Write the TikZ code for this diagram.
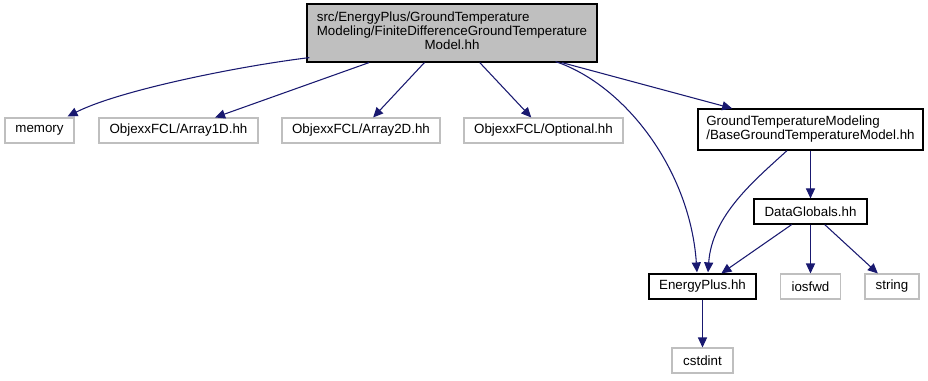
\documentclass[tikz,border=0pt]{standalone}
\usepackage{xcolor}
\usepackage{tikz}
\usepackage{fontspec}
\setmainfont{Liberation Sans}
\usetikzlibrary{arrows.meta, calc}
\definecolor{edgeblue}{RGB}{25, 25, 112}
\definecolor{boxgrey}{RGB}{191, 191, 191}
\definecolor{darktext}{RGB}{0, 0, 0}

\tikzset{
    srcfile/.style={draw=black, fill=white, line width=0.9pt, inner sep=0pt,
                    minimum height=18.75pt, font=\fontsize{10}{10.5}\selectfont, text=darktext},
    extfile/.style={srcfile, draw=boxgrey, line width=0.8pt},
    dep/.style={draw=edgeblue, line width=0.8pt, -{Triangle[length=7.5pt, width=6.8pt]}}
}

\begin{document}
\begin{tikzpicture}[x=0.75pt, y=-0.75pt]
    \useasboundingbox (0,0) rectangle (928,380);

    % the file itself
    \node[srcfile, fill=boxgrey, minimum width=217.5pt, minimum height=43.5pt] (root) at (452,33) {%
        \begin{tabular}{@{}l@{}}
            src/EnergyPlus/GroundTemperature\\
            Modeling/FiniteDifferenceGroundTemperature\\
            \multicolumn{1}{@{}c@{}}{Model.hh}
        \end{tabular}};

    % first row of includes
    \node[extfile, minimum width=51.75pt]  (memory)   at (39.5,130.5)  {memory};
    \node[extfile, minimum width=119.25pt] (array1d)  at (178.5,130.5) {ObjexxFCL/Array1D.hh};
    \node[extfile, minimum width=118.5pt]  (array2d)  at (361,130.5)   {ObjexxFCL/Array2D.hh};
    \node[extfile, minimum width=119.25pt] (optional) at (543.5,130.5) {ObjexxFCL/Optional.hh};
    \node[srcfile, minimum width=168.75pt, minimum height=30.75pt] (basemodel) at (810.5,129.5) {%
        \begin{tabular}{@{}l@{}}
            GroundTemperatureModeling\\
            /BaseGroundTemperatureModel.hh
        \end{tabular}};

    % lower levels
    \node[srcfile, minimum width=84.75pt] (dataglobals) at (810.5,211.5) {DataGlobals.hh};
    \node[srcfile, minimum width=80.25pt] (energyplus)  at (702.5,286.5) {EnergyPlus.hh};
    \node[extfile, minimum width=45pt]    (iosfwd)      at (810.5,286.5) {iosfwd};
    \node[extfile, minimum width=40.5pt]  (string)      at (892,286.5)   {string};
    \node[extfile, minimum width=45.75pt] (cstdint)     at (702.5,360.5) {cstdint};

    % include edges
    \draw[dep] ($(root.south west)+(3,-5)$) .. controls (240,66) and (120,90) .. ($(memory.north east)+(-7,-1)$);
    \draw[dep] (root) -- (array1d);
    \draw[dep] (root) -- (array2d);
    \draw[dep] (root) -- (optional);
    \draw[dep] (root) -- (basemodel);
    \draw[dep] ($(root.south east)+(-42,-1)$) .. controls (625,85) and (690,170) .. ($(energyplus.north)+(-5.5,-1)$);
    \draw[dep] ($(basemodel.south)+(-23.5,0)$) .. controls (755,180) and (712,215) .. ($(energyplus.north)+(5.5,-1)$);
    \draw[dep] (basemodel) -- (dataglobals);
    \draw[dep] (dataglobals) -- (energyplus);
    \draw[dep] (dataglobals) -- (iosfwd);
    \draw[dep] (dataglobals) -- (string);
    \draw[dep] (energyplus) -- (cstdint);
\end{tikzpicture}
\end{document}
